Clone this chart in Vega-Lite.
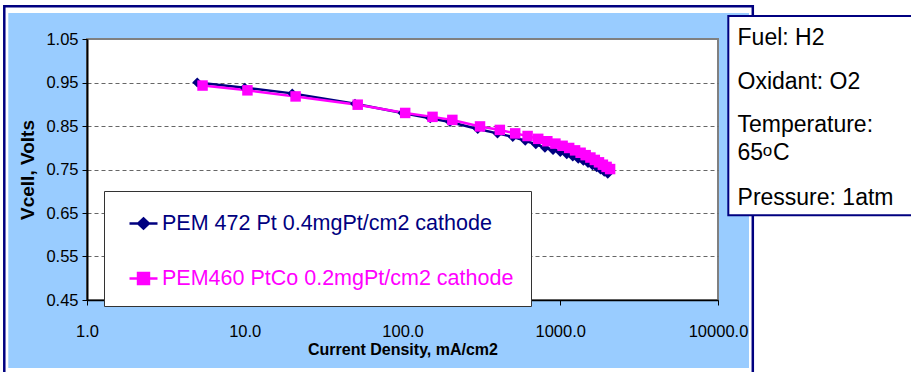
{
  "$schema": "https://vega.github.io/schema/vega-lite/v6.json",
  "width": 631,
  "height": 261,
  "autosize": {"type": "none"},
  "padding": {"left": 87, "top": 39, "right": 193, "bottom": 72},
  "background": "#99CCFF",
  "config": {
    "font": "Liberation Sans",
    "view": {"fill": "#FFFFFF", "stroke": "#808080", "strokeWidth": 2},
    "axis": {"labelColor": "#000000", "titleColor": "#000000", "domainColor": "#000000", "tickColor": "#000000", "labelFont": "Liberation Sans", "titleFont": "Liberation Sans"}
  },
  "datasets": {
    "fc": [
      {"series": "PEM 472 Pt 0.4mgPt/cm2 cathode", "current": 5, "voltage": 0.950},
      {"series": "PEM 472 Pt 0.4mgPt/cm2 cathode", "current": 10, "voltage": 0.938},
      {"series": "PEM 472 Pt 0.4mgPt/cm2 cathode", "current": 20, "voltage": 0.925},
      {"series": "PEM 472 Pt 0.4mgPt/cm2 cathode", "current": 50, "voltage": 0.901},
      {"series": "PEM 472 Pt 0.4mgPt/cm2 cathode", "current": 100, "voltage": 0.880},
      {"series": "PEM 472 Pt 0.4mgPt/cm2 cathode", "current": 150, "voltage": 0.868},
      {"series": "PEM 472 Pt 0.4mgPt/cm2 cathode", "current": 200, "voltage": 0.859},
      {"series": "PEM 472 Pt 0.4mgPt/cm2 cathode", "current": 300, "voltage": 0.843},
      {"series": "PEM 472 Pt 0.4mgPt/cm2 cathode", "current": 400, "voltage": 0.833},
      {"series": "PEM 472 Pt 0.4mgPt/cm2 cathode", "current": 500, "voltage": 0.825},
      {"series": "PEM 472 Pt 0.4mgPt/cm2 cathode", "current": 600, "voltage": 0.816},
      {"series": "PEM 472 Pt 0.4mgPt/cm2 cathode", "current": 700, "voltage": 0.808},
      {"series": "PEM 472 Pt 0.4mgPt/cm2 cathode", "current": 800, "voltage": 0.800},
      {"series": "PEM 472 Pt 0.4mgPt/cm2 cathode", "current": 900, "voltage": 0.795},
      {"series": "PEM 472 Pt 0.4mgPt/cm2 cathode", "current": 1000, "voltage": 0.790},
      {"series": "PEM 472 Pt 0.4mgPt/cm2 cathode", "current": 1100, "voltage": 0.785},
      {"series": "PEM 472 Pt 0.4mgPt/cm2 cathode", "current": 1200, "voltage": 0.780},
      {"series": "PEM 472 Pt 0.4mgPt/cm2 cathode", "current": 1300, "voltage": 0.775},
      {"series": "PEM 472 Pt 0.4mgPt/cm2 cathode", "current": 1400, "voltage": 0.770},
      {"series": "PEM 472 Pt 0.4mgPt/cm2 cathode", "current": 1500, "voltage": 0.765},
      {"series": "PEM 472 Pt 0.4mgPt/cm2 cathode", "current": 1600, "voltage": 0.760},
      {"series": "PEM 472 Pt 0.4mgPt/cm2 cathode", "current": 1700, "voltage": 0.755},
      {"series": "PEM 472 Pt 0.4mgPt/cm2 cathode", "current": 1800, "voltage": 0.750},
      {"series": "PEM 472 Pt 0.4mgPt/cm2 cathode", "current": 1900, "voltage": 0.745},
      {"series": "PEM 472 Pt 0.4mgPt/cm2 cathode", "current": 2000, "voltage": 0.740},
      {"series": "PEM460 PtCo 0.2mgPt/cm2 cathode", "current": 5.4, "voltage": 0.943},
      {"series": "PEM460 PtCo 0.2mgPt/cm2 cathode", "current": 10.4, "voltage": 0.932},
      {"series": "PEM460 PtCo 0.2mgPt/cm2 cathode", "current": 21, "voltage": 0.918},
      {"series": "PEM460 PtCo 0.2mgPt/cm2 cathode", "current": 52, "voltage": 0.899},
      {"series": "PEM460 PtCo 0.2mgPt/cm2 cathode", "current": 104, "voltage": 0.880},
      {"series": "PEM460 PtCo 0.2mgPt/cm2 cathode", "current": 155, "voltage": 0.871},
      {"series": "PEM460 PtCo 0.2mgPt/cm2 cathode", "current": 207, "voltage": 0.864},
      {"series": "PEM460 PtCo 0.2mgPt/cm2 cathode", "current": 310, "voltage": 0.849},
      {"series": "PEM460 PtCo 0.2mgPt/cm2 cathode", "current": 414, "voltage": 0.841},
      {"series": "PEM460 PtCo 0.2mgPt/cm2 cathode", "current": 518, "voltage": 0.833},
      {"series": "PEM460 PtCo 0.2mgPt/cm2 cathode", "current": 621, "voltage": 0.827},
      {"series": "PEM460 PtCo 0.2mgPt/cm2 cathode", "current": 725, "voltage": 0.8205},
      {"series": "PEM460 PtCo 0.2mgPt/cm2 cathode", "current": 828, "voltage": 0.815},
      {"series": "PEM460 PtCo 0.2mgPt/cm2 cathode", "current": 932, "voltage": 0.8095},
      {"series": "PEM460 PtCo 0.2mgPt/cm2 cathode", "current": 1035, "voltage": 0.8045},
      {"series": "PEM460 PtCo 0.2mgPt/cm2 cathode", "current": 1139, "voltage": 0.7995},
      {"series": "PEM460 PtCo 0.2mgPt/cm2 cathode", "current": 1242, "voltage": 0.794},
      {"series": "PEM460 PtCo 0.2mgPt/cm2 cathode", "current": 1346, "voltage": 0.7885},
      {"series": "PEM460 PtCo 0.2mgPt/cm2 cathode", "current": 1449, "voltage": 0.783},
      {"series": "PEM460 PtCo 0.2mgPt/cm2 cathode", "current": 1553, "voltage": 0.7775},
      {"series": "PEM460 PtCo 0.2mgPt/cm2 cathode", "current": 1656, "voltage": 0.772},
      {"series": "PEM460 PtCo 0.2mgPt/cm2 cathode", "current": 1760, "voltage": 0.7665},
      {"series": "PEM460 PtCo 0.2mgPt/cm2 cathode", "current": 1863, "voltage": 0.761},
      {"series": "PEM460 PtCo 0.2mgPt/cm2 cathode", "current": 1967, "voltage": 0.756},
      {"series": "PEM460 PtCo 0.2mgPt/cm2 cathode", "current": 2070, "voltage": 0.751}
    ]
  },
  "layer": [
    {
      "data": {"name": "fc"},
      "encoding": {
        "x": {
          "field": "current", "type": "quantitative", "title": "Current Density, mA/cm2",
          "scale": {"type": "log", "domain": [1, 10000], "nice": false},
          "axis": {"values": [1, 10, 100, 1000, 10000], "format": ".1f", "grid": false, "labelFlush": false, "labelOverlap": false, "labelFontSize": 16.5, "labelPadding": 18, "tickSize": 5, "domainWidth": 1.5, "titleFontSize": 16, "titleFontWeight": "bold", "titlePadding": 2}
        },
        "y": {
          "field": "voltage", "type": "quantitative", "title": "Vcell, Volts",
          "scale": {"domain": [0.45, 1.05], "nice": false, "zero": false},
          "axis": {"values": [0.45, 0.55, 0.65, 0.75, 0.85, 0.95, 1.05], "format": ".2f", "grid": true, "gridColor": "#666666", "gridDash": [4, 3], "gridOpacity": {"condition": {"test": "datum.value < 0.5 || datum.value > 1", "value": 0}, "value": 1}, "labelFontSize": 16.5, "labelPadding": 4, "tickSize": 5, "domainWidth": 2, "titleFontSize": 19, "titleFontWeight": "bold", "titlePadding": 8, "labelOverlap": false, "labelFlush": false}
        },
        "color": {
          "field": "series", "type": "nominal",
          "scale": {"domain": ["PEM 472 Pt 0.4mgPt/cm2 cathode", "PEM460 PtCo 0.2mgPt/cm2 cathode"], "range": ["#000080", "#FF00FF"]},
          "legend": {
            "orient": "none", "legendX": 17, "legendY": 152, "title": null,
            "fillColor": "#FFFFFF", "strokeColor": "#333333", "padding": 17,
            "rowPadding": 29, "labelFontSize": 21.5, "labelFont": "Liberation Sans", "labelLimit": 600, "labelOffset": 3,
            "labelColor": {"expr": "datum.value == 'PEM460 PtCo 0.2mgPt/cm2 cathode' ? '#FF00FF' : '#000080'"},
            "symbolType": {"expr": "datum.value == 'PEM460 PtCo 0.2mgPt/cm2 cathode' ? 'M-1,0H1M-0.39,-0.39H0.39V0.39H-0.39Z' : 'M-1,0H1M0,-0.36L0.38,0L0,0.36L-0.38,0Z'"},
            "symbolSize": 784, "symbolStrokeWidth": 2.5, "symbolOffset": 7,
            "symbolFillColor": {"expr": "datum.value == 'PEM460 PtCo 0.2mgPt/cm2 cathode' ? '#FF00FF' : '#000080'"},
            "symbolStrokeColor": {"expr": "datum.value == 'PEM460 PtCo 0.2mgPt/cm2 cathode' ? '#FF00FF' : '#000080'"},
            "symbolOpacity": 1, "zindex": 1
          }
        }
      },
      "layer": [
        {"mark": {"type": "line", "strokeWidth": 2.5}},
        {"transform": [{"filter": {"field": "series", "equal": "PEM 472 Pt 0.4mgPt/cm2 cathode"}}], "mark": {"type": "point", "shape": "diamond", "filled": true, "size": 100, "opacity": 1}},
        {"transform": [{"filter": {"field": "series", "equal": "PEM460 PtCo 0.2mgPt/cm2 cathode"}}], "mark": {"type": "point", "shape": "square", "filled": true, "size": 110, "opacity": 1}}
      ]
    },
    {
      "data": {"values": [{}]},
      "mark": {"type": "rect", "fill": "#FFFFFF", "strokeWidth": 0, "clip": false},
      "encoding": {
        "x": {"datum": 0.001, "type": "quantitative", "scale": {"type": "log", "domain": [1, 10000]}},
        "x2": {"datum": 10000000},
        "y": {"datum": 3, "type": "quantitative", "scale": {"domain": [0.45, 1.05]}},
        "y2": {"datum": 1.1098}
      }
    },
    {
      "data": {"values": [{}]},
      "mark": {"type": "rect", "fill": "#FFFFFF", "strokeWidth": 0, "clip": false},
      "encoding": {
        "x": {"datum": 0.001, "type": "quantitative", "scale": {"type": "log", "domain": [1, 10000]}},
        "x2": {"datum": 10000000},
        "y": {"datum": 0.2937, "type": "quantitative", "scale": {"domain": [0.45, 1.05]}},
        "y2": {"datum": -1}
      }
    },
    {
      "data": {"values": [{}]},
      "mark": {"type": "rect", "fill": "#FFFFFF", "strokeWidth": 0, "clip": false},
      "encoding": {
        "x": {"datum": 0.001, "type": "quantitative", "scale": {"type": "log", "domain": [1, 10000]}},
        "x2": {"datum": 0.317},
        "y": {"datum": 3, "type": "quantitative", "scale": {"domain": [0.45, 1.05]}},
        "y2": {"datum": -1}
      }
    },
    {
      "data": {"values": [{}]},
      "mark": {"type": "rect", "fill": "#FFFFFF", "strokeWidth": 0, "clip": false},
      "encoding": {
        "x": {"datum": 15720, "type": "quantitative", "scale": {"type": "log", "domain": [1, 10000]}},
        "x2": {"datum": 10000000},
        "y": {"datum": 3, "type": "quantitative", "scale": {"domain": [0.45, 1.05]}},
        "y2": {"datum": -1}
      }
    },
    {
      "data": {"values": [{}]},
      "mark": {"type": "rect", "filled": false, "stroke": "#000080", "strokeWidth": 2.5, "clip": false},
      "encoding": {
        "x": {"datum": 0.299, "type": "quantitative", "scale": {"type": "log", "domain": [1, 10000]}},
        "x2": {"datum": 16620},
        "y": {"datum": 1.1254, "type": "quantitative", "scale": {"domain": [0.45, 1.05]}},
        "y2": {"datum": 0.27}
      }
    },
    {
      "data": {"values": [{}]},
      "mark": {"type": "rect", "fill": "#FFFFFF", "stroke": "#000080", "strokeWidth": 2, "clip": false},
      "encoding": {
        "x": {"datum": 11625, "type": "quantitative", "scale": {"type": "log", "domain": [1, 10000]}},
        "x2": {"datum": 10000000},
        "y": {"datum": 1.1029, "type": "quantitative", "scale": {"domain": [0.45, 1.05]}},
        "y2": {"datum": 0.6447}
      }
    },
    {
      "data": {"values": [{}]},
      "mark": {"type": "text", "text": "Fuel: H2", "align": "left", "baseline": "alphabetic", "fontSize": 23, "font": "Liberation Sans", "fill": "#000000", "clip": false},
      "encoding": {
        "x": {"datum": 13300, "type": "quantitative", "scale": {"type": "log", "domain": [1, 10000]}},
        "y": {"datum": 1.0362, "type": "quantitative", "scale": {"domain": [0.45, 1.05]}}
      }
    },
    {
      "data": {"values": [{}]},
      "mark": {"type": "text", "text": "Oxidant: O2", "align": "left", "baseline": "alphabetic", "fontSize": 23, "font": "Liberation Sans", "fill": "#000000", "clip": false},
      "encoding": {
        "x": {"datum": 13300, "type": "quantitative", "scale": {"type": "log", "domain": [1, 10000]}},
        "y": {"datum": 0.9344, "type": "quantitative", "scale": {"domain": [0.45, 1.05]}}
      }
    },
    {
      "data": {"values": [{}]},
      "mark": {"type": "text", "text": "Temperature:", "align": "left", "baseline": "alphabetic", "fontSize": 23, "font": "Liberation Sans", "fill": "#000000", "clip": false},
      "encoding": {
        "x": {"datum": 13300, "type": "quantitative", "scale": {"type": "log", "domain": [1, 10000]}},
        "y": {"datum": 0.8369, "type": "quantitative", "scale": {"domain": [0.45, 1.05]}}
      }
    },
    {
      "data": {"values": [{}]},
      "mark": {"type": "text", "text": "65", "align": "left", "baseline": "alphabetic", "fontSize": 23, "font": "Liberation Sans", "fill": "#000000", "clip": false},
      "encoding": {
        "x": {"datum": 13300, "type": "quantitative", "scale": {"type": "log", "domain": [1, 10000]}},
        "y": {"datum": 0.7718, "type": "quantitative", "scale": {"domain": [0.45, 1.05]}}
      }
    },
    {
      "data": {"values": [{}]},
      "mark": {"type": "text", "text": "o", "align": "left", "baseline": "alphabetic", "fontSize": 17, "font": "Liberation Sans", "fill": "#000000", "clip": false},
      "encoding": {
        "x": {"datum": 19210, "type": "quantitative", "scale": {"type": "log", "domain": [1, 10000]}},
        "y": {"datum": 0.7799, "type": "quantitative", "scale": {"domain": [0.45, 1.05]}}
      }
    },
    {
      "data": {"values": [{}]},
      "mark": {"type": "text", "text": "C", "align": "left", "baseline": "alphabetic", "fontSize": 23, "font": "Liberation Sans", "fill": "#000000", "clip": false},
      "encoding": {
        "x": {"datum": 22290, "type": "quantitative", "scale": {"type": "log", "domain": [1, 10000]}},
        "y": {"datum": 0.7718, "type": "quantitative", "scale": {"domain": [0.45, 1.05]}}
      }
    },
    {
      "data": {"values": [{}]},
      "mark": {"type": "text", "text": "Pressure: 1atm", "align": "left", "baseline": "alphabetic", "fontSize": 23, "font": "Liberation Sans", "fill": "#000000", "clip": false},
      "encoding": {
        "x": {"datum": 13300, "type": "quantitative", "scale": {"type": "log", "domain": [1, 10000]}},
        "y": {"datum": 0.6684, "type": "quantitative", "scale": {"domain": [0.45, 1.05]}}
      }
    }
  ]
}
